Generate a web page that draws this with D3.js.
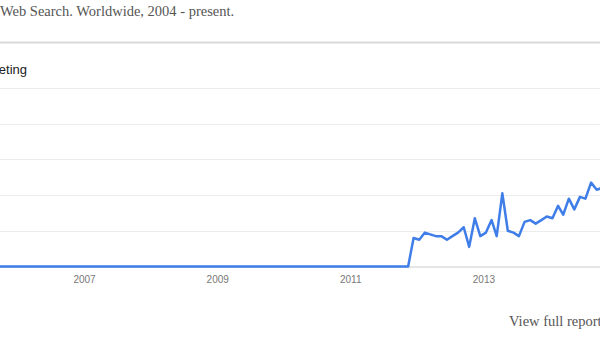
<!DOCTYPE html>
<html>
<head>
<meta charset="utf-8">
<script src="https://cdn.jsdelivr.net/npm/d3@7"></script>
<style>
  html, body { margin: 0; padding: 0; background: #fff; }
  svg { display: block; }
</style>
</head>
<body>
<svg id="chart" width="600" height="350"></svg>
<script>
// Monthly search interest (0-100), one row per year, Jan..Dec
const interest2004 = [0,0,0,0,0,0,0,0,0,0,0,0];
const interest2005 = [0,0,0,0,0,0,0,0,0,0,0,0];
const interest2006 = [0,0,0,0,0,0,0,0,0,0,0,0];
const interest2007 = [0,0,0,0,0,0,0,0,0,0,0,0];
const interest2008 = [0,0,0,0,0,0,0,0,0,0,0,0];
const interest2009 = [0,0,0,0,0,0,0,0,0,0,0,0];
const interest2010 = [0,0,0,0,0,0,0,0,0,0,0,0];
const interest2011 = [0,0,0,0,0,0,0,0,0,0,0,16];
const interest2012 = [15,19,18,17,17,15,17,19,22,11,27,17];
const interest2013 = [19,26,17,41,20,19,17,25,26,24,26,28];
const interest2014 = [27,34,29,38,32,39,38,47,43,44];

const dataYears = [2004,2005,2006,2007,2008,2009,2010,2011,2012,2013,2014];
const yearRows = [interest2004, interest2005, interest2006, interest2007, interest2008,
                  interest2009, interest2010, interest2011, interest2012, interest2013, interest2014];

const tickYears = [2007, 2009, 2011, 2013];
const gridValues = [20, 40, 60, 80, 100];

const titleText = "Web Search. Worldwide, 2004 - present.";
const seriesLabel = "Marketing";
const footerText = "View full report";

// flatten into mid-month points
const points = [];
yearRows.forEach((row, i) => {
  row.forEach((v, m) => points.push({ date: new Date(dataYears[i], m, 15), value: v }));
});

const svg = d3.select("#chart");
const W = 600;

const x = d3.scaleTime()
  .domain([new Date(2007, 0, 1), new Date(2011, 0, 1)])
  .range([84, 350.2]);
const y = d3.scaleLinear().domain([0, 100]).range([266.5, 88]);

// title
svg.append("text")
  .attr("x", 0).attr("y", 16)
  .attr("font-family", "'Liberation Serif', 'Times New Roman', serif")
  .attr("font-size", 14.5)
  .attr("fill", "#555")
  .text(titleText);

// header separator
svg.append("line")
  .attr("x1", 0).attr("x2", W).attr("y1", 42.5).attr("y2", 42.5)
  .attr("stroke", "#d9d9d9").attr("stroke-width", 2);

// series label
svg.append("text")
  .attr("x", 27).attr("y", 74)
  .attr("text-anchor", "end")
  .attr("font-family", "'Liberation Sans', Arial, sans-serif")
  .attr("font-size", 13)
  .attr("fill", "#222")
  .text(seriesLabel);

// horizontal gridlines
svg.append("g")
  .selectAll("line")
  .data(gridValues)
  .join("line")
  .attr("x1", 0).attr("x2", W)
  .attr("y1", d => Math.round(y(d)) + 0.5)
  .attr("y2", d => Math.round(y(d)) + 0.5)
  .attr("stroke", "#ececec").attr("stroke-width", 1);

// baseline
svg.append("line")
  .attr("x1", 0).attr("x2", W).attr("y1", y(0) + 0.5).attr("y2", y(0) + 0.5)
  .attr("stroke", "#cccccc").attr("stroke-width", 1);

// x axis labels
const xAxis = d3.axisBottom(x)
  .tickValues(tickYears.map(yr => new Date(yr, 0, 1)))
  .tickFormat(d3.timeFormat("%Y"))
  .tickSize(0)
  .tickPadding(9);
const gx = svg.append("g").attr("transform", `translate(0,${y(0)})`).call(xAxis);
gx.select(".domain").remove();
gx.selectAll("text")
  .attr("font-family", "'Liberation Sans', Arial, sans-serif")
  .attr("font-size", 10)
  .attr("fill", "#777");

// interest line
const line = d3.line()
  .x(d => x(d.date))
  .y(d => y(d.value));

svg.append("path")
  .datum(points)
  .attr("fill", "none")
  .attr("stroke", "#3f7ee8")
  .attr("stroke-width", 2.5)
  .attr("stroke-linejoin", "round")
  .attr("d", line);

// footer link text
svg.append("text")
  .attr("x", 509).attr("y", 326)
  .attr("font-family", "'Liberation Serif', 'Times New Roman', serif")
  .attr("font-size", 14.5)
  .attr("fill", "#555")
  .text(footerText);
</script>
</body>
</html>
